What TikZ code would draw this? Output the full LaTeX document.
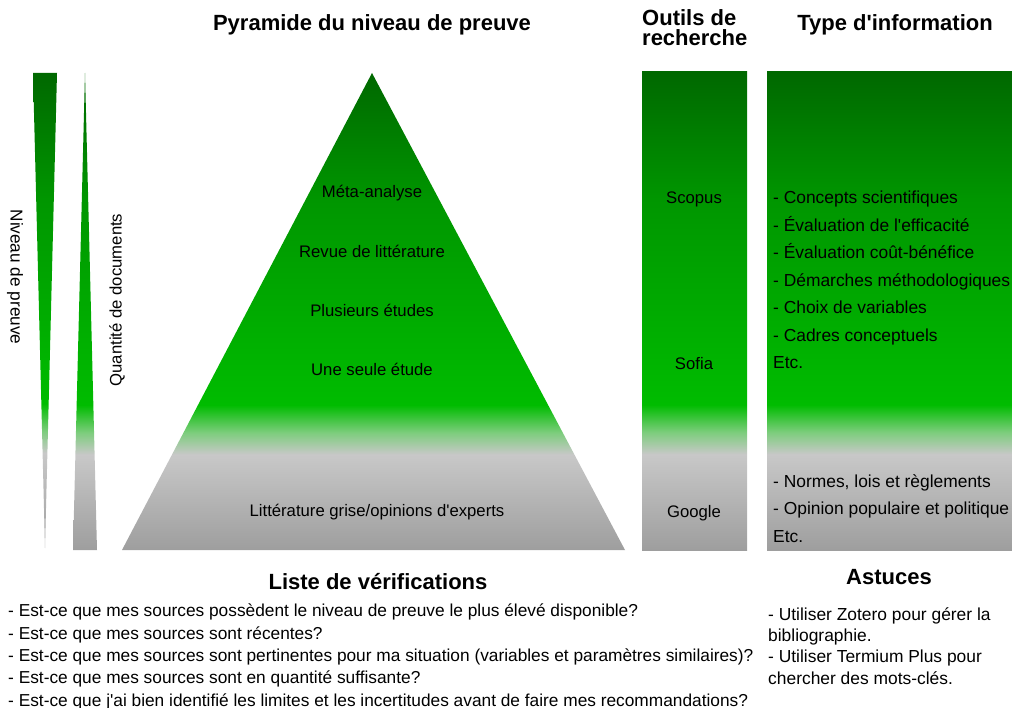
\documentclass[tikz,border=0pt]{standalone}
\usepackage{fontspec}
\setmainfont{Liberation Sans}[Ligatures=TeXOff]
\usetikzlibrary{positioning}

\definecolor{vertA}{RGB}{0,104,0}
\definecolor{vertM}{RGB}{0,150,0}
\definecolor{vertB}{RGB}{0,188,0}
\definecolor{vertC}{RGB}{125,205,125}
\definecolor{grisA}{RGB}{200,200,200}
\definecolor{grisB}{RGB}{158,158,158}
\pgfdeclareverticalshading{preuve}{100bp}{color(0bp)=(grisB); color(25bp)=(grisB);
  color(35bp)=(grisA); color(37.3bp)=(vertC); color(40.2bp)=(vertB);
  color(61.7bp)=(vertM); color(75bp)=(vertA); color(100bp)=(vertA)}

\begin{document}
\begin{tikzpicture}[x=1pt, y=-1pt, node distance=58.7pt, inner sep=0pt,
	titre/.style={font=\fontsize{22}{20}\selectfont\bfseries},
	texte/.style={font=\fontsize{16.7}{20}\selectfont},
	liste/.style={anchor=base west, align=left}]
	\useasboundingbox (0,0) rectangle (1012,708);
	% formes en degrade
	\shade[shading=preuve] (33,73) -- (57,73) -- (45,548) -- cycle;
	\shade[shading=preuve] (85,73) -- (97,550) -- (73,550) -- cycle;
	\shade[shading=preuve] (372,73) -- (625,550) -- (122,550) -- cycle;
	\shade[shading=preuve] (642,72) rectangle (747,550);
	\shade[shading=preuve] (767,72) rectangle (1012,550);
	% titres
	\node[titre] (pyr) at (372,25) {Pyramide du niveau de preuve};
	\node[titre, anchor=west, align=left] (outils) at (642,28) {Outils de\\recherche};
	\node[titre] (type) at (895,25) {Type d'information};
	% axes
	\node[texte, rotate=-90, font=\fontsize{17.2}{20}\selectfont] (niveau) at (15,277) {Niveau de preuve};
	\node[texte, rotate=90] (quant) at (117,300) {Quantité de documents};
	% pyramide
	\node[texte] (meta) at (372,193) {Méta-analyse};
	\node[texte] (revue) [below of=meta] {Revue de littérature};
	\node[texte] (plus) [below of=revue] {Plusieurs études};
	\node[texte] (une) [below of=plus] {Une seule étude};
	\node[texte] (grise) at (377,512) {Littérature grise/opinions d'experts};
	% outils
	\node[texte] (scopus) at (694,199) {Scopus};
	\node[texte] (sofia) at (694,364) {Sofia};
	\node[texte] (google) at (694,513) {Google};
	% type d'information
	\node[liste, font=\fontsize{17.4}{27.5}\selectfont] (infoA) at (773,369)
		{- Concepts scientifiques\\- Évaluation de l'efficacité\\- Évaluation coût-bénéfice\\- Démarches méthodologiques\\- Choix de variables\\- Cadres conceptuels\\Etc.};
	\node[liste, font=\fontsize{17.4}{27.5}\selectfont] (infoB) at (773,542)
		{- Normes, lois et règlements\\- Opinion populaire et politique\\Etc.};
	% bas de page
	\node[titre] (liste) at (378,582) {Liste de vérifications};
	\node[liste, font=\fontsize{17.3}{22.3}\selectfont] (verif) at (8,706)
		{- Est-ce que mes sources possèdent le niveau de preuve le plus élevé disponible?\\
		- Est-ce que mes sources sont récentes?\\
		- Est-ce que mes sources sont pertinentes pour ma situation (variables et paramètres similaires)?\\
		- Est-ce que mes sources sont en quantité suffisante?\\
		- Est-ce que j'ai bien identifié les limites et les incertitudes avant de faire mes recommandations?};
	\node[titre] (astuces) at (889,577) {Astuces};
	\node[liste, font=\fontsize{17.4}{21.3}\selectfont] (trucs) at (768,684)
		{- Utiliser Zotero pour gérer la\\bibliographie.\\- Utiliser Termium Plus pour\\chercher des mots-clés.};
\end{tikzpicture}
\end{document}
